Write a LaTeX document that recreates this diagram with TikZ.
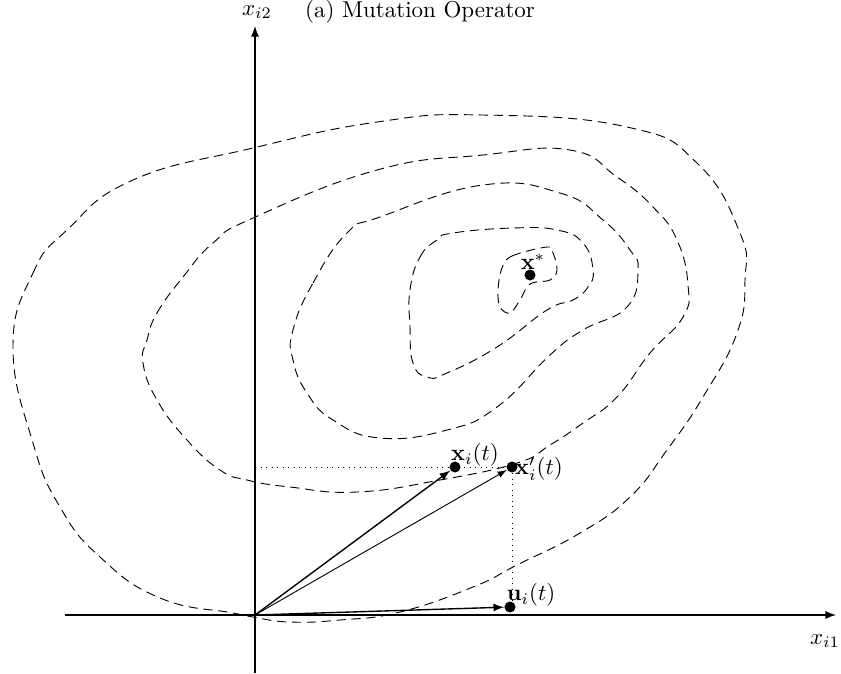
\documentclass[tikz,border=0pt]{standalone}
\usetikzlibrary{arrows}
\begin{document}
\begin{tikzpicture}[x=0.0153cm,y=-0.0153cm]
    \tikzset{
        isoline/.style={dash pattern=on 4pt off 2.5pt,smooth cycle,tension=.8},
        dotpt/.style={circle,fill,inner sep=1.7pt},
        axis/.style={semithick,-latex}
    }
    \useasboundingbox (0,0) rectangle (841,673);
    \coordinate (O) at (255,615);
    \coordinate (xl) at (65,615);
    \coordinate (xr) at (836,615);
    \coordinate (yb) at (255,673);
    \coordinate (yt) at (255,26);
    \draw[axis] (xl) -- (xr);
    \draw[axis] (yb) -- (yt);
    \node (lx1) at (825,641) {$x_{i1}$};
    \node (lx2) at (257,12) {$x_{i2}$};
    \node[anchor=base] (title) at (420,17) {(a) Mutation Operator};

    \draw[isoline] plot coordinates {(13,347) (33,273) (67,230) (133,180) (253,148) (377,122) (483,115) (627,127) (697,163) (740,233) (745,280) (737,333) (703,397) (667,450) (630,497) (580,533) (517,565) (473,587) (400,612) (340,620) (290,622) (253,617) (233,613) (160,598) (100,557) (60,507) (33,443)};
    \draw[isoline] plot coordinates {(147,340) (157,313) (183,277) (213,243) (253,218) (377,170) (483,155) (570,150) (617,177) (653,207) (677,240) (688,285) (683,317) (650,353) (617,397) (583,423) (550,445) (517,463) (440,480) (357,492) (290,487) (247,480) (220,470) (187,440) (157,400) (143,363)};
    \draw[isoline] plot coordinates {(293,330) (313,283) (347,233) (380,217) (483,185) (560,193) (603,220) (630,250) (638,270) (627,307) (583,330) (550,355) (497,407) (447,430) (380,438) (333,420) (307,393) (293,360)};
    \draw[isoline] plot coordinates {(410,290) (420,257) (437,240) (453,233) (513,228) (557,230) (583,243) (593,270) (588,287) (573,300) (547,310) (497,347) (447,373) (427,377) (413,363) (410,327)};
    \draw[isoline,tension=.6] plot coordinates {(502,268) (512,256) (547,247) (553,253) (557,270) (550,280) (530,284) (520,300) (510,313) (500,307) (498,290)};

    \node[dotpt] (xs) at (530,275) {};
    \node (lxs) at (533,262) {$\mathbf{x}^*$};

    \node[dotpt] (xi) at (455,467) {};
    \node[dotpt] (xp) at (512,467) {};
    \node[dotpt] (ui) at (510,607) {};
    \node (lxi) at (475,455) {$\mathbf{x}_i(t)$};
    \node (lxp) at (539,469) {$\mathbf{x}_i'(t)$};
    \node (lui) at (531,595) {$\mathbf{u}_i(t)$};

    \draw[dotted] (O |- xp) -- (xp) -- (xp |- ui);
    \draw[semithick,-latex] (O) -- (xi);
    \draw[-latex] (O) -- (xp);
    \draw[semithick,-latex] (O) -- (ui);
\end{tikzpicture}
\end{document}
